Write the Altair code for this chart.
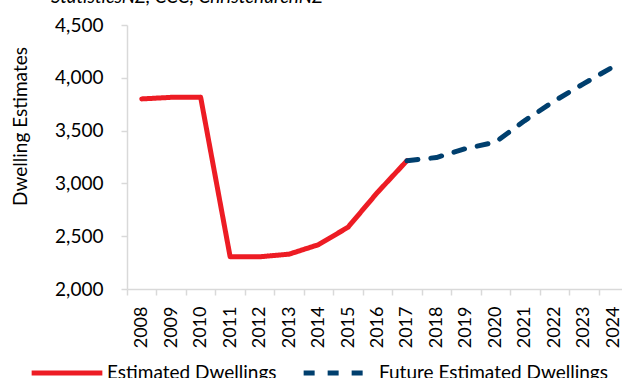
import altair as alt
import pandas as pd

# Dwelling estimates by year
est_years = ["2008", "2009", "2010", "2011", "2012", "2013", "2014", "2015", "2016", "2017"]
est_values = [3800, 3815, 3815, 2305, 2305, 2330, 2420, 2585, 2915, 3215]

future_years = ["2017", "2018", "2019", "2020", "2021", "2022", "2023", "2024"]
future_values = [3215, 3245, 3330, 3390, 3595, 3780, 3945, 4105]

all_years = [str(y) for y in range(2008, 2025)]
series_names = ["Estimated Dwellings", "Future Estimated Dwellings"]

df = pd.concat([
    pd.DataFrame({"year": est_years, "value": est_values, "series": series_names[0]}),
    pd.DataFrame({"year": future_years, "value": future_values, "series": series_names[1]}),
])

FONT = "Lato"
GRID = "#D9D9D9"

legend_opts = dict(
    title=None, orient="none", direction="horizontal", legendX=-98, legendY=310,
    symbolType="stroke", symbolSize=5000, symbolStrokeWidth=5,
    labelFont=FONT, labelFontSize=19, labelColor="#000000", labelOffset=2,
    labelLimit=400, columnPadding=16,
)

chart = alt.Chart(df).mark_line(strokeWidth=5, strokeCap="round", strokeJoin="round").encode(
    x=alt.X(
        "year:O",
        bandPosition=0.5,
        scale=alt.Scale(type="band", domain=all_years, range=[0, 501], paddingInner=0, paddingOuter=0),
        axis=alt.Axis(
            title=None, labelAngle=-90, labelAlign="right", labelBaseline="middle",
            labelPadding=11, tickBand="extent", tickSize=6, tickColor=GRID, tickWidth=1.5,
            domainColor=GRID, domainWidth=1.5, labelFont=FONT, labelFontSize=18,
            labelColor="#000000",
        ),
    ),
    y=alt.Y(
        "value:Q",
        scale=alt.Scale(domain=[2000, 4500], nice=False, zero=False),
        axis=alt.Axis(
            title="Dwelling Estimates", values=[2000, 2500, 3000, 3500, 4000, 4500], format=",.0f",
            grid=False, tickSize=6, tickColor=GRID, tickWidth=1.5, domainColor=GRID, domainWidth=1.5,
            labelPadding=18, labelFont=FONT, labelFontSize=19, labelColor="#000000",
            titleFont=FONT, titleFontSize=19, titleFontWeight="normal", titleColor="#000000",
            titleX=-107, titleY=101, titleAngle=-90, titleBaseline="middle", titleAlign="center",
        ),
    ),
    color=alt.Color(
        "series:N",
        scale=alt.Scale(domain=series_names, range=["#ED1C24", "#003F6E"]),
        legend=alt.Legend(**legend_opts),
    ),
    strokeDash=alt.StrokeDash(
        "series:N",
        scale=alt.Scale(domain=series_names, range=[[1, 0], [11, 13]]),
        legend=alt.Legend(**legend_opts),
    ),
).properties(
    width=495,
    height=264,
    title=alt.TitleParams(
        "StatisticsNZ, CCC, ChristchurchNZ", anchor="start", frame="group",
        font=FONT, fontSize=19, fontStyle="italic", fontWeight="normal", color="#000000",
        dx=-76, dy=16, baseline="alphabetic", offset=10,
    ),
    autosize=alt.AutoSizeParams(type="none"),
    padding={"left": 127, "top": 25, "right": 0, "bottom": 89},
).configure_view(stroke=None)

chart.save("out.html", embed_options={"renderer": "svg", "actions": False})
